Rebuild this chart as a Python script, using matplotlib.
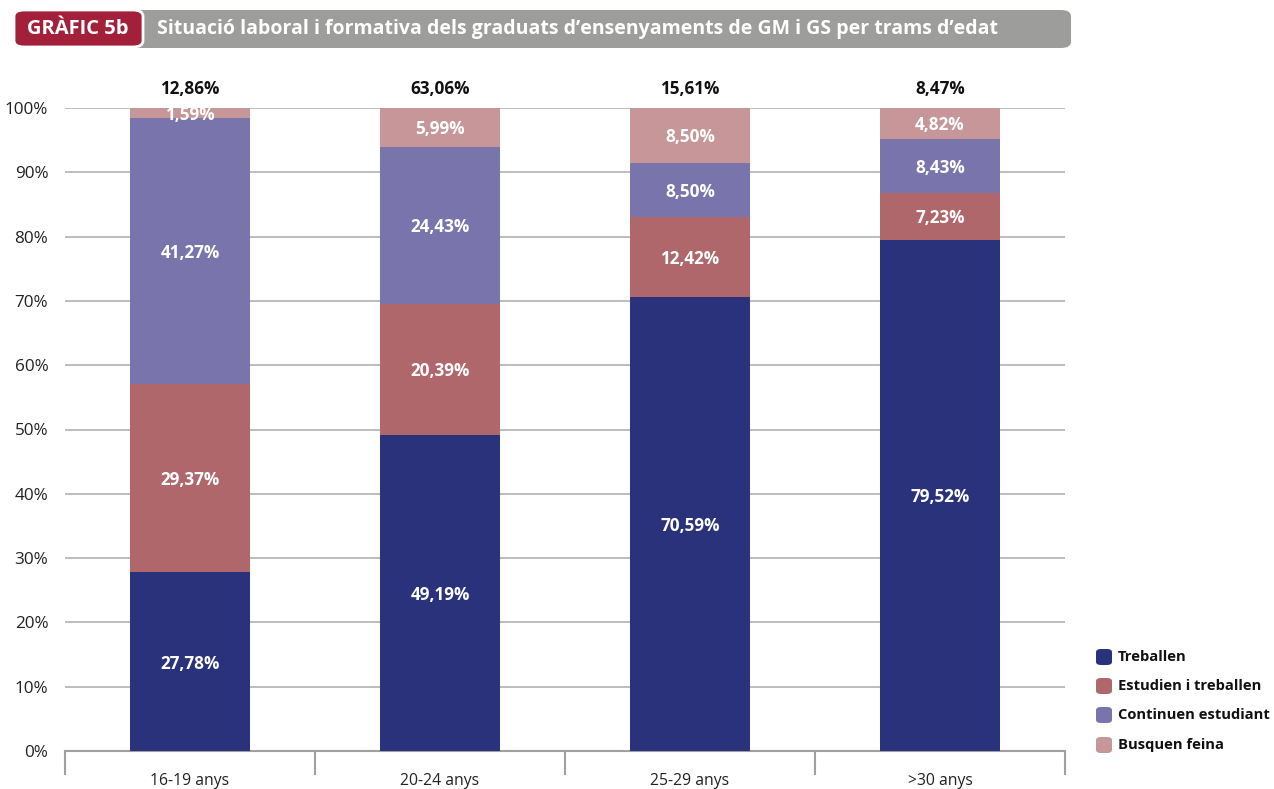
import matplotlib
matplotlib.use("Agg")
import matplotlib.pyplot as plt
from matplotlib.patches import FancyBboxPatch
import numpy as np

plt.rcParams['font.family'] = ['Open Sans', 'DejaVu Sans']

categories = ['16-19 anys', '20-24 anys', '25-29 anys', '>30 anys']
series_names = ['Treballen', 'Estudien i treballen', 'Continuen estudiant', 'Busquen feina']
treballen = [27.78, 49.19, 70.59, 79.52]
estudien = [29.37, 20.39, 12.42, 7.23]
continuen = [41.27, 24.43, 8.50, 8.43]
busquen = [1.59, 5.99, 8.50, 4.82]
totals = ['12,86%', '63,06%', '15,61%', '8,47%']
yticks = [0, 10, 20, 30, 40, 50, 60, 70, 80, 90, 100]

colors = ['#2b327c', '#b0676c', '#7a74ac', '#c79698']
series = [treballen, estudien, continuen, busquen]

fig = plt.figure(figsize=(12.74, 7.89), dpi=100)
ax = fig.add_axes([65/1274, 1-751/789, 1000/1274, (751-108)/789])

x = np.arange(len(categories))
bottom = np.zeros(len(categories))
for vals, col, name in zip(series, colors, series_names):
    vals = np.array(vals)
    ax.bar(x, vals, width=0.48, bottom=bottom, color=col, zorder=3, label=name)
    for xi, b, v in zip(x, bottom, vals):
        ax.text(xi, b + v/2 - 0.3, f'{v:.2f}%'.replace('.', ','), ha='center', va='center',
                color='white', fontsize=12.3, fontweight='bold', zorder=4)
    bottom += vals

for xi, t in zip(x, totals):
    ax.text(xi, 103.0, t, ha='center', va='center', fontsize=12.3, fontweight='bold', color='#111111')

ax.set_xlim(-0.5, 3.5)
ax.set_ylim(0, 100)
ax.set_yticks(yticks)
ax.set_yticklabels([f'{v}%' for v in yticks], fontsize=12.3, color='#222222')
ax.yaxis.grid(True, color='#ababab', linewidth=1.1, zorder=0)
ax.tick_params(axis='y', length=0, pad=12)
for s in ['top', 'right', 'left']:
    ax.spines[s].set_visible(False)
ax.spines['bottom'].set_color('#a0a0a0')
ax.spines['bottom'].set_linewidth(1.5)
ax.set_xticks([-0.5, 0.5, 1.5, 2.5, 3.5])
ax.set_xticklabels([])
ax.set_xticks(x, minor=True)
ax.set_xticklabels(categories, minor=True, fontsize=11.3, color='#222222')
ax.tick_params(axis='x', which='major', length=17, color='#a0a0a0', width=1.5)
ax.tick_params(axis='x', which='minor', length=0, pad=16)

# Header
W, H = 1274, 789
gray = FancyBboxPatch((120/W, 1-48/H), (1071-120)/W, 38/H,
                      boxstyle='round,pad=0,rounding_size=0.008',
                      transform=fig.transFigure, facecolor='#9d9d9c', edgecolor='none')
fig.patches.append(gray)
red = FancyBboxPatch((14/W, 1-47/H), (143-14)/W, 37/H,
                     boxstyle='round,pad=0,rounding_size=0.008',
                     transform=fig.transFigure, facecolor='#a3203a', edgecolor='white', linewidth=2)
fig.patches.append(red)
fig.text(78/W, 1-29/H, 'GRÀFIC 5b', ha='center', va='center', color='white',
         fontsize=14.5, fontweight='bold')
fig.text(157/W, 1-29/H, 'Situació laboral i formativa dels graduats d’ensenyaments de GM i GS per trams d’edat',
         ha='left', va='center', color='white', fontsize=14, fontweight='bold')

# Legend
ys = [657, 686, 715, 745]
for yy, col, name in zip(ys, colors, series_names):
    p = FancyBboxPatch((1096/W, 1-(yy+8)/H), 16/W, 16/H,
                       boxstyle='round,pad=0,rounding_size=0.004',
                       transform=fig.transFigure, facecolor=col, edgecolor='none')
    fig.patches.append(p)
    fig.text(1118/W, 1-yy/H, name, ha='left', va='center', fontsize=10.6,
             fontweight='bold', color='#111111')

fig.savefig('out.png', dpi=100)
